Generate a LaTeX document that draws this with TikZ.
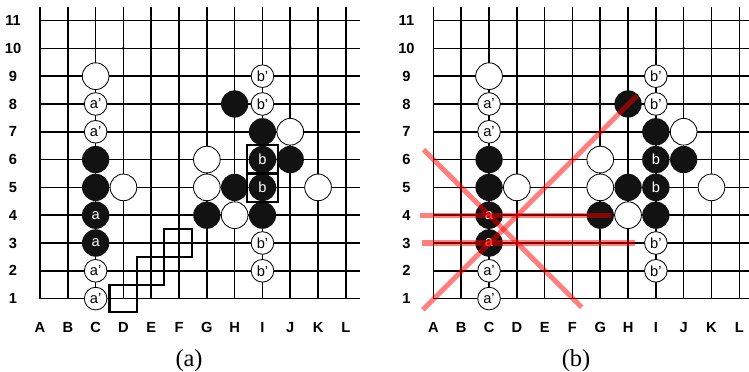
\documentclass[tikz,border=0pt]{standalone}
\usepackage{fontspec}
\setmainfont{Liberation Serif}
\setsansfont{Liberation Sans}
\begin{document}
\begin{tikzpicture}[x=0.7cm, y=0.7cm,
    every node/.style={font=\sffamily\fontsize{10.5}{10.5}\selectfont, inner sep=0pt},
    gridline/.style={line width=1.1pt},
    wstone/.style={draw, fill=white, line width=0.6pt},
    bstone/.style={fill=black!93},
    wlab/.style={circle, draw, fill=white, line width=0.6pt, minimum size=0.57cm},
    blab/.style={circle, fill=black!93, text=white, minimum size=0.69cm},
    axlab/.style={font=\sffamily\bfseries\fontsize{10.5}{10.5}\selectfont},
    caption/.style={font=\rmfamily\fontsize{17.5}{18}\selectfont},
    markbox/.style={draw, line width=1.5pt},
    redline/.style={red, opacity=0.5, line width=3.6pt}]
  % 1 cell = 0.7cm, origin at A1 of board (a)
  \def\dx{14.15}
  \useasboundingbox (-1.44,-2.64) rectangle (25.5,10.74);

  % ---- (a) ----
  \begin{scope}
    \foreach \c in {0,...,11} \draw[gridline] (\c,0) -- (\c,10.5);
    \foreach \r in {0,...,10} \draw[gridline] (0,\r) -- (11.5,\r);
    \foreach \p in {(3,9),(9,9),(3,3),(9,3)} \fill \p circle (0.06);
    \foreach \l [count=\i from 0] in {A,B,C,D,E,F,G,H,I,J,K,L}
      \node[axlab] (a-col-\l) at (\i,-1.04) {\l};
    \foreach \r in {1,...,11}
      \node[axlab] (a-row-\r) at (-0.97,\r-1) {\r};
    % plain stones
    \foreach \p in {(2,8),(3,4),(6,5),(6,4),(7,3),(9,6),(10,4)}
      \draw[wstone] \p circle (0.48);
    \foreach \p in {(2,5),(2,4),(7,7),(8,6),(9,5),(7,4),(6,3),(8,3)}
      \fill[bstone] \p circle (0.49);
    % labelled stones
    \node[wlab] (a-C8) at (2,7) {a'};
    \node[wlab] (a-C7) at (2,6) {a'};
    \node[wlab] (a-C2) at (2,1) {a'};
    \node[wlab] (a-C1) at (2,0) {a'};
    \node[wlab] (a-I9) at (8,8) {b'};
    \node[wlab] (a-I8) at (8,7) {b'};
    \node[wlab] (a-I3) at (8,2) {b'};
    \node[wlab] (a-I2) at (8,1) {b'};
    \node[blab] (a-C4) at (2,3) {a};
    \node[blab] (a-C3) at (2,2) {a};
    \node[blab] (a-I6) at (8,5) {b};
    \node[blab] (a-I5) at (8,4) {b};
    % boxes
    \draw[markbox] (7.45,4.48) rectangle (8.55,5.52);
    \draw[markbox] (7.45,3.48) rectangle (8.55,4.52);
    \draw[markbox] (2.5,-0.48) rectangle (3.48,0.5);
    \draw[markbox] (3.48,0.5) rectangle (4.46,1.5);
    \draw[markbox] (4.46,1.5) rectangle (5.46,2.5);
    \node[caption] (capa) at (5.36,-2.24) {(a)};
  \end{scope}

  % ---- (b) ----
  \begin{scope}[shift={(\dx,0)}]
    \foreach \c in {0,...,11} \draw[gridline] (\c,0) -- (\c,10.5);
    \foreach \r in {0,...,10} \draw[gridline] (0,\r) -- (11.5,\r);
    \foreach \p in {(3,9),(9,9),(3,3),(9,3)} \fill \p circle (0.06);
    \foreach \l [count=\i from 0] in {A,B,C,D,E,F,G,H,I,J,K,L}
      \node[axlab] (b-col-\l) at (\i,-1.04) {\l};
    \foreach \r in {1,...,11}
      \node[axlab] (b-row-\r) at (-0.97,\r-1) {\r};
    % plain stones
    \foreach \p in {(2,8),(3,4),(6,5),(6,4),(7,3),(9,6),(10,4)}
      \draw[wstone] \p circle (0.48);
    \foreach \p in {(2,5),(2,4),(7,7),(8,6),(9,5),(7,4),(6,3),(8,3)}
      \fill[bstone] \p circle (0.49);
    % labelled stones
    \node[wlab] (b-C8) at (2,7) {a'};
    \node[wlab] (b-C7) at (2,6) {a'};
    \node[wlab] (b-C2) at (2,1) {a'};
    \node[wlab] (b-C1) at (2,0) {a'};
    \node[wlab] (b-I9) at (8,8) {b'};
    \node[wlab] (b-I8) at (8,7) {b'};
    \node[wlab] (b-I3) at (8,2) {b'};
    \node[wlab] (b-I2) at (8,1) {b'};
    \node[blab] (b-C4) at (2,3) {a};
    \node[blab] (b-C3) at (2,2) {a};
    \node[blab] (b-I6) at (8,5) {b};
    \node[blab] (b-I5) at (8,4) {b};
    % red lines
    \draw[redline] (-0.38,-0.4) -- (7.32,7.3);
    \draw[redline] (-0.36,5.36) -- (5.33,-0.31);
    \draw[redline] (-0.5,3) -- (6.38,3);
    \draw[redline] (-0.42,2) -- (7.26,2);
    \node[caption] (capb) at (5.13,-2.24) {(b)};
  \end{scope}
\end{tikzpicture}
\end{document}
